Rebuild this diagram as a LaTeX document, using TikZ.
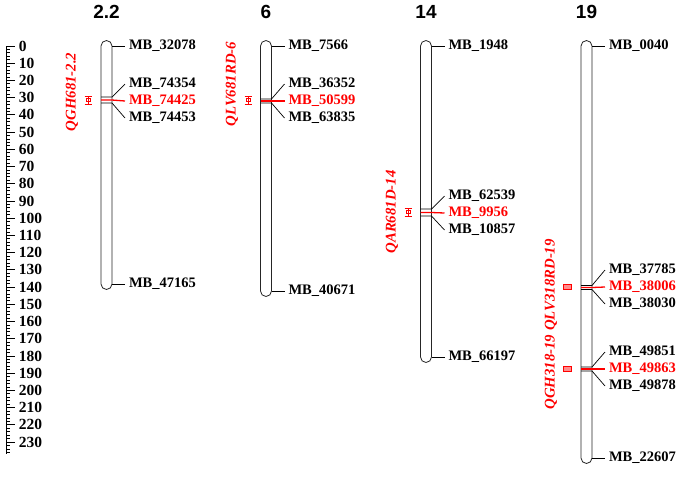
\documentclass[tikz,border=0pt]{standalone}
\usepackage{fontspec}
\setmainfont{Liberation Serif}
\newfontfamily\titlefont{Liberation Sans}

\begin{document}
\begin{tikzpicture}[x=1pt, y=-1pt,
    chrom/.style={draw=black!85, line width=0.8pt, rounded corners=5.5pt},
    tick/.style={line width=0.8pt},
    link/.style={line width=0.7pt},
    mname/.style={anchor=west, inner sep=0pt, outer xsep=4pt, font=\bfseries\fontsize{14.5}{16}\selectfont},
    hit/.style={mname, text=red},
    qname/.style={rotate=90, inner sep=0pt, text=red, font=\bfseries\itshape\fontsize{14.8}{17}\selectfont},
    ci/.style={draw=red, line width=0.6pt},
    lgname/.style={inner sep=0pt, font=\titlefont\bfseries\fontsize{19}{21}\selectfont}]
  \useasboundingbox (0,0) rectangle (686,499);

  % scale, 1 cM = 1.722 px
  \draw[tick] (6,46) -- (6,{46+1.722*237});
  \foreach \k in {0,2,...,236}
    \draw[tick] (6,{46+1.722*\k}) -- (10,{46+1.722*\k});
  \foreach \k in {0,10,...,230} {
    \draw[tick] (6,{46+1.722*\k}) -- (15,{46+1.722*\k});
    \node[mname, outer xsep=0pt, font=\bfseries\fontsize{15.5}{16}\selectfont] (s\k) at (19,{46+1.722*\k}) {\k};
  }

  % linkage groups with end markers
  \foreach \cx/\yb/\id/\lg/\ta/\tb in {106.5/284/A/2.2/32078/47165, 266/291/B/6/7566/40671,
      426/357/C/14/1948/66197, 586.5/458/D/19/0040/22607} {
    \draw[chrom] (\cx-5.5,40.5) rectangle (\cx+5.5,\yb+5.5);
    \node[lgname] (lg\id) at (\cx,12) {\lg};
    \coordinate (top\id) at (\cx+5.5,46);
    \coordinate (bot\id) at (\cx+5.5,\yb);
    \node[mname] (ta\id) at (\cx+18.5,46) {MB\_\ta};
    \node[mname] (tb\id) at (\cx+18.5,\yb) {MB\_\tb};
    \draw[link] (top\id) -- (ta\id.west);
    \draw[link] (bot\id) -- (tb\id.west);
  }

  % marker clusters, middle one is the peak marker
  \foreach \cx/\ya/\yb/\yc/\ly/\na/\nb/\nc/\id in {106.5/97/100/103/101/74354/74425/74453/1,
      266/99/101/103/101/36352/50599/63835/2, 426/209/212.5/216/213/62539/9956/10857/3,
      586.5/285.5/287.5/289.5/287/37785/38006/38030/4, 586.5/367/369/371/369/49851/49863/49878/5} {
    \coordinate (ma\id) at (\cx+5.5,\ya);
    \coordinate (mb\id) at (\cx+5.5,\yb);
    \coordinate (mc\id) at (\cx+5.5,\yc);
    \node[mname] (na\id) at (\cx+18.5,\ly-17) {MB\_\na};
    \node[hit] (nb\id) at (\cx+18.5,\ly) {MB\_\nb};
    \node[mname] (nc\id) at (\cx+18.5,\ly+17) {MB\_\nc};
    \draw[link] (\cx-5.5,\ya) -- (ma\id) -- (na\id.west);
    \draw[link] (\cx-5.5,\yc) -- (mc\id) -- (nc\id.west);
    \draw[link, red, line width=1.3pt] (\cx-5.5,\yb) -- (mb\id) -- (nb\id.west);
  }

  % QTL names and intervals
  \foreach \qx/\qy/\q/\id in {72/92/QGH681-2.2/1, 232/84/QLV681RD-6/2,
      392/212/QAR681D-14/3, 551/285/QLV318RD-19/4, 551/372/QGH318-19/5}
    \node[qname] (q\id) at (\qx,\qy) {\q};
  \foreach \ix/\iy in {88/100, 248/100, 408/212} {
    \draw[ci] (\ix-3.5,\iy-4) -- (\ix+3.5,\iy-4) (\ix-3.5,\iy+4) -- (\ix+3.5,\iy+4)
      (\ix,\iy-4) -- (\ix,\iy+4);
    \draw[ci] (\ix-2,\iy-1.5) rectangle (\ix+2,\iy+1.5);
  }
  \foreach \ix/\iy in {567/287, 567/369}
    \draw[ci, fill=red!45] (\ix-4,\iy-2.5) rectangle (\ix+4,\iy+2.5);
\end{tikzpicture}
\end{document}
